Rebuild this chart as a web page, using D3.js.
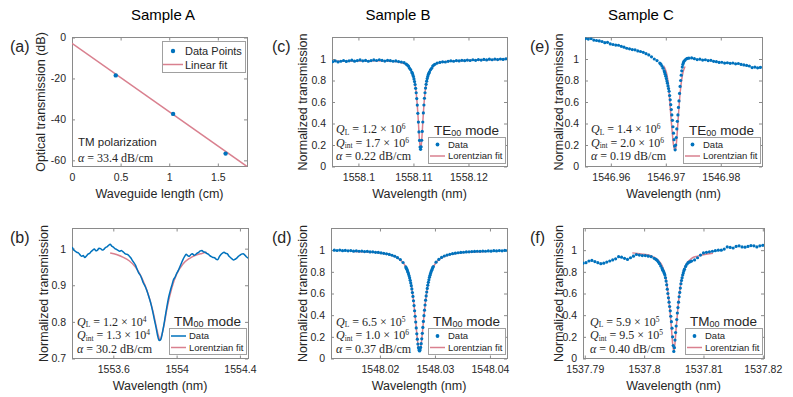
<!DOCTYPE html>
<meta charset="utf-8">
<style>
body { margin: 0; background: #fff; }
svg text { font-family: "Liberation Sans", Arial, sans-serif; fill: #262626; }
.tick text { font-size: 10.5px; fill: #262626; }
.tex { font-family: "Liberation Serif", "Times New Roman", serif; font-size: 12px; }
</style>
<svg width="793" height="397"></svg>
<script src="https://cdn.jsdelivr.net/npm/d3@7"></script>
<script>

// ---------- data ----------
// (a) cut-back loss
var aLen = [0.45, 1.04, 1.58];
var aTrans = [-18.5, -37.3, -56.7];
var aFitLen = [0, 1.8];
var aFitTrans = [-2.9, -63.0];

// (b) TM00, sample A (wavelength in nm)
var bWl = [1553.34,1553.35,1553.36,1553.37,1553.38,1553.39,1553.40,1553.41,1553.42,1553.43,1553.44,1553.45,1553.46,1553.47,1553.48,1553.49,1553.50,1553.51,1553.52,1553.53,1553.54,1553.55,1553.56,1553.57,1553.58,1553.59,1553.60,1553.61,1553.62,1553.63,1553.64,1553.65,1553.66,1553.67,1553.68,1553.69,1553.70,1553.71,1553.72,1553.73,1553.74,1553.75,1553.76,1553.77,1553.78,1553.79,1553.80,1553.81,1553.82,1553.83,1553.84,1553.85,1553.86,1553.87,1553.88,1553.89,1553.90,1553.91,1553.92,1553.93,1553.94,1553.95,1553.96,1553.97,1553.98,1553.99,1554.00,1554.01,1554.02,1554.03,1554.04,1554.05,1554.06,1554.07,1554.08,1554.09,1554.10,1554.11,1554.12,1554.13,1554.14,1554.15,1554.16,1554.17,1554.18,1554.19,1554.20,1554.21,1554.22,1554.23,1554.24,1554.25,1554.26,1554.27,1554.28,1554.29,1554.30,1554.31,1554.32,1554.33,1554.34,1554.35,1554.36,1554.37,1554.38,1554.39,1554.40,1554.41,1554.42,1554.43,1554.44,1554.45,1554.46];
var bT = [1.004,0.996,0.993,0.99,0.988,0.983,0.979,0.981,0.976,0.98,0.985,0.987,0.992,0.996,0.999,0.994,0.996,1.001,1.0,0.996,0.998,1.003,1.005,1.009,1.012,1.007,1.004,1.0,0.998,0.995,0.993,0.995,0.992,0.988,0.985,0.984,0.98,0.975,0.968,0.962,0.955,0.944,0.934,0.928,0.918,0.906,0.898,0.888,0.875,0.861,0.845,0.826,0.805,0.785,0.762,0.749,0.752,0.77,0.793,0.82,0.845,0.868,0.885,0.9,0.915,0.922,0.932,0.94,0.95,0.96,0.97,0.978,0.985,0.981,0.979,0.984,0.986,0.982,0.984,0.988,0.99,0.994,0.995,0.991,0.99,0.987,0.985,0.981,0.978,0.976,0.975,0.971,0.97,0.978,0.984,0.988,0.99,0.987,0.986,0.98,0.976,0.972,0.969,0.971,0.974,0.979,0.982,0.985,0.986,0.983,0.978,0.975,0.973];
var bFitWl = [1553.58,1553.62,1553.66,1553.70,1553.74,1553.78,1553.82,1553.85,1553.87,1553.885,1553.895,1553.905,1553.92,1553.94,1553.97,1554.00,1554.04,1554.08,1554.12,1554.16,1554.19];
var bFitT = [0.988,0.984,0.977,0.967,0.95,0.92,0.876,0.83,0.79,0.762,0.75,0.762,0.79,0.838,0.893,0.93,0.958,0.973,0.982,0.987,0.99];

// (c) TE00, sample B: offsets in pm from the dip
var cCenter = 1558.1113;
var cOff = [-16,-15.5,-15,-14.5,-14,-13.5,-13,-12.5,-12,-11.5,-11,-10.5,-10,-9.5,-9,-8.5,-8,-7.5,-7,-6.5,-6,-5.5,-5,-4.5,-4,-3.5,-3,
  -2.6,-2.4,-2.2,-2,-1.8,-1.6,-1.5,-1.4,-1.3,-1.2,-1.1,-1,-0.9,-0.8,-0.7,-0.6,-0.5,-0.4,-0.3,-0.2,-0.1,0,
  0.1,0.2,0.3,0.4,0.5,0.6,0.7,0.8,0.9,1,1.1,1.2,1.3,1.4,1.5,1.6,1.8,2,2.2,2.4,2.6,
  3,3.5,4,4.5,5,5.5,6,6.5,7,7.5,8,8.5,9,9.5,10,10.5,11,11.5,12,12.5,13,13.5,14,14.5,15,15.5];
var cT = [0.975,0.982,0.973,0.979,0.986,0.977,0.983,0.989,0.98,0.985,0.991,0.983,0.987,0.979,0.985,0.991,0.986,0.993,0.987,0.981,0.988,0.984,0.979,0.982,0.976,0.972,0.966,
  0.952,0.944,0.933,0.913,0.9,0.878,0.868,0.851,0.837,0.815,0.79,0.763,0.727,0.686,0.632,0.571,0.495,0.413,0.322,0.243,0.181,0.16,
  0.183,0.244,0.326,0.414,0.498,0.572,0.635,0.686,0.73,0.764,0.794,0.818,0.838,0.855,0.868,0.88,0.899,0.913,0.934,0.944,0.951,
  0.962,0.968,0.974,0.972,0.978,0.983,0.979,0.985,0.982,0.988,0.984,0.99,0.986,0.993,0.988,0.995,0.99,0.996,0.991,0.998,0.993,0.999,0.995,1.0,0.996,1.002];
var cFitOff = [-16,-12,-8,-5,-3.5,-2.5,-2,-1.6,-1.3,-1,-0.8,-0.6,-0.4,-0.2,0,0.2,0.4,0.6,0.8,1,1.3,1.6,2,2.5,3.5,5,8,12,15.7];
var cFitT = [0.978,0.981,0.984,0.979,0.965,0.945,0.912,0.879,0.836,0.763,0.685,0.57,0.412,0.242,0.16,0.242,0.412,0.57,0.685,0.763,0.836,0.879,0.912,0.945,0.968,0.978,0.985,0.992,0.998];

// (d) TM00, sample B
var dCenter = 1548.0272;
var dOff = [-15.5,-15,-14.5,-14,-13.5,-13,-12.5,-12,-11.5,-11,-10.5,-10,-9.5,-9,-8.5,-8,-7.5,-7,-6.5,-6,-5.5,-5,-4.5,-4,-3.5,-3,
  -2.5,-2.4,-2.3,-2.2,-2.1,-2,-1.9,-1.8,-1.7,-1.6,-1.5,-1.4,-1.3,-1.2,-1.1,-1,-0.9,-0.8,-0.7,-0.6,-0.5,-0.4,-0.3,-0.2,-0.1,0,
  0.1,0.2,0.3,0.4,0.5,0.6,0.7,0.8,0.9,1,1.1,1.2,1.3,1.4,1.5,1.6,1.7,1.8,1.9,2,2.1,2.2,2.3,2.4,2.5,
  3,3.5,4,4.5,5,5.5,6,6.5,7,7.5,8,8.5,9,9.5,10,10.5,11,11.5,12,12.5,13,13.5,14,14.5,15,15.5,16];
var dT = [1.0,0.997,1.001,0.995,0.998,0.994,0.996,0.991,0.994,0.99,0.992,0.987,0.989,0.984,0.985,0.98,0.979,0.975,0.971,0.966,0.961,0.953,0.944,0.931,0.913,0.886,
  0.845,0.834,0.823,0.81,0.796,0.78,0.763,0.744,0.722,0.698,0.672,0.642,0.609,0.573,0.533,0.489,0.441,0.39,0.337,0.282,0.228,0.178,0.134,0.10,0.078,0.07,
  0.079,0.102,0.137,0.182,0.232,0.287,0.342,0.395,0.446,0.494,0.538,0.578,0.614,0.647,0.677,0.703,0.727,0.749,0.768,0.785,0.8,0.814,0.827,0.838,0.849,
  0.889,0.915,0.933,0.946,0.955,0.962,0.968,0.972,0.976,0.979,0.981,0.984,0.985,0.987,0.988,0.99,0.989,0.992,0.99,0.993,0.991,0.995,0.993,0.996,0.994,0.998,0.996];
var dFitOff = [-12,-9,-7,-5,-4,-3,-2.5,-2,-1.6,-1.3,-1,-0.8,-0.6,-0.4,-0.2,0,0.2,0.4,0.6,0.8,1,1.3,1.6,2,2.5,3,4,5,7,9,12];
var dFitT = [0.987,0.981,0.973,0.952,0.93,0.885,0.845,0.78,0.698,0.609,0.489,0.39,0.282,0.178,0.1,0.07,0.1,0.178,0.282,0.39,0.489,0.609,0.698,0.78,0.845,0.885,0.93,0.952,0.973,0.981,0.987];

// (e) TE00, sample C
var eCenter = 1546.9717;
var eOff = [-16.8,-16.3,-15.8,-15.3,-14.8,-14.3,-13.8,-13.3,-12.8,-12.3,-11.8,-11.3,-10.8,-10.3,-9.8,-9.3,-8.8,-8.3,-7.8,-7.3,-6.8,-6.3,-5.8,-5.3,-4.8,-4.3,-3.8,-3.3,
  -2.8,-2.6,-2.4,-2.2,-2,-1.9,-1.8,-1.7,-1.6,-1.5,-1.4,-1.3,-1.2,-1.1,-1,-0.9,-0.8,-0.7,-0.6,-0.5,-0.4,-0.3,-0.2,-0.1,0,
  0.1,0.2,0.3,0.4,0.5,0.6,0.7,0.8,0.9,1,1.1,1.2,1.3,1.4,1.5,1.6,1.8,2,2.2,
  2.5,3,3.5,4,4.5,5,5.5,6,6.5,7,7.5,8,8.5,9,9.5,10,10.5,11,11.5,12,12.5,13,13.5,14,14.5,15,15.5,16];
var eT = [1.195,1.19,1.185,1.19,1.176,1.172,1.168,1.163,1.152,1.155,1.14,1.135,1.13,1.128,1.118,1.11,1.1,1.095,1.088,1.085,1.075,1.07,1.062,1.05,1.038,1.02,1.0,0.985,
  0.962,0.952,0.935,0.915,0.89,0.875,0.858,0.84,0.818,0.795,0.775,0.75,0.725,0.7,0.66,0.62,0.575,0.53,0.48,0.43,0.37,0.31,0.25,0.19,0.155,
  0.2,0.27,0.35,0.42,0.48,0.55,0.61,0.68,0.745,0.8,0.85,0.89,0.925,0.95,0.965,0.978,0.99,1.0,1.005,
  1.008,1.01,1.003,0.995,0.998,0.99,0.993,0.985,0.988,0.978,0.975,0.968,0.97,0.962,0.965,0.96,0.963,0.955,0.958,0.95,0.945,0.94,0.935,0.92,0.925,0.918,0.922,0.925];
var eFitOff = [-2.1,-1.8,-1.5,-1.3,-1.1,-0.9,-0.7,-0.5,-0.3,-0.1,0.05,0.2,0.4,0.6,0.8,1,1.2,1.4,1.6,1.8];
var eFitT = [0.935,0.905,0.855,0.79,0.69,0.55,0.42,0.3,0.2,0.155,0.15,0.2,0.33,0.48,0.62,0.73,0.81,0.87,0.905,0.93];

// (f) TM00, sample C
var fCenter = 1537.805;
var fOff = [-15.3,-14.8,-14.3,-13.8,-13.3,-12.8,-12.3,-11.8,-11.3,-10.8,-10.3,-9.8,-9.3,-8.8,-8.3,-7.8,-7.3,-6.8,-6.3,-5.8,-5.3,-4.8,-4.3,-3.8,-3.3,
  -3,-2.8,-2.6,-2.4,-2.2,-2,-1.9,-1.8,-1.7,-1.6,-1.5,-1.4,-1.3,-1.2,-1.1,-1,-0.9,-0.8,-0.7,-0.6,-0.5,-0.4,-0.3,-0.2,-0.1,0,
  0.1,0.2,0.3,0.4,0.5,0.6,0.7,0.8,0.9,1,1.1,1.2,1.3,1.4,1.5,1.6,1.7,1.8,2,2.2,2.4,2.6,2.8,
  3,3.5,4,4.5,5,5.5,6,6.5,7,7.5,8,8.5,9,9.5,10,10.5,11,11.5,12,12.5,13,13.5,14,14.5,15];
var fT = [0.88,0.885,0.9,0.905,0.895,0.885,0.875,0.88,0.89,0.9,0.91,0.92,0.94,0.935,0.925,0.915,0.93,0.945,0.96,0.955,0.95,0.95,0.945,0.94,0.925,
  0.915,0.905,0.89,0.875,0.855,0.835,0.82,0.81,0.8,0.785,0.77,0.745,0.715,0.68,0.64,0.6,0.56,0.52,0.48,0.44,0.39,0.34,0.28,0.2,0.12,0.065,
  0.1,0.17,0.24,0.3,0.36,0.42,0.47,0.52,0.57,0.61,0.65,0.69,0.72,0.745,0.77,0.79,0.81,0.825,0.85,0.87,0.885,0.89,0.895,
  0.9,0.91,0.93,0.955,0.975,0.98,0.985,0.99,0.995,1.0,1.0,1.01,1.03,1.025,1.02,1.035,1.04,1.03,1.028,1.035,1.042,1.04,1.03,1.04,1.045];
var fFitOff = [-7,-5.5,-4,-3,-2.5,-2,-1.6,-1.3,-1,-0.7,-0.4,-0.2,0,0.2,0.4,0.7,1,1.3,1.6,2,2.5,3,4,5,6.6];
var fFitT = [0.975,0.965,0.95,0.925,0.9,0.86,0.8,0.73,0.62,0.47,0.28,0.14,0.065,0.14,0.28,0.47,0.62,0.73,0.8,0.86,0.9,0.925,0.945,0.958,0.972];

// tick values
var normTicks = [0, 0.2, 0.4, 0.6, 0.8, 1];
var aXTicks = [0, 0.5, 1, 1.5], aYTicks = [-60, -40, -20, 0];
var bXTicks = [1553.6, 1554, 1554.4], bYTicks = [0.7, 0.8, 0.9, 1];
var cXTicks = [1558.1, 1558.11, 1558.12];
var dXTicks = [1548.02, 1548.03, 1548.04];
var eXTicks = [1546.96, 1546.97, 1546.98];
var fXTicks = [1537.79, 1537.8, 1537.81, 1537.82];

// ---------- drawing ----------
var svg = d3.select("svg");
var blue = "#0072bd", pink = "#d9808f", boxGray = "#8a8a8a";

svg.append("rect").attr("width", 793).attr("height", 397).attr("fill", "#fff");

function panel(p) {
  var x = d3.scaleLinear().domain(p.xDom).range([p.x0, p.x1]);
  var y = d3.scaleLinear().domain(p.yDom).range([p.y1, p.y0]);
  var g = svg.append("g");
  var noLabel = function() { return ""; };

  g.append("clipPath").attr("id", "clip" + p.name)
    .append("rect").attr("x", p.x0).attr("y", p.y0)
    .attr("width", p.x1 - p.x0).attr("height", p.y1 - p.y0);

  g.append("g").attr("class", "ax").attr("transform", "translate(0," + p.y1 + ")")
    .call(d3.axisBottom(x).tickValues(p.xTicks).tickFormat(String).tickSizeInner(-3).tickSizeOuter(0).tickPadding(7.5));
  g.append("g").attr("class", "ax").attr("transform", "translate(0," + p.y0 + ")")
    .call(d3.axisTop(x).tickValues(p.xTicks).tickFormat(noLabel).tickSizeInner(-3).tickSizeOuter(0));
  g.append("g").attr("class", "ax").attr("transform", "translate(" + p.x0 + ",0)")
    .call(d3.axisLeft(y).tickValues(p.yTicks).tickFormat(String).tickSizeInner(-3).tickSizeOuter(0).tickPadding(6));
  g.append("g").attr("class", "ax").attr("transform", "translate(" + p.x1 + ",0)")
    .call(d3.axisRight(y).tickValues(p.yTicks).tickFormat(noLabel).tickSizeInner(-3).tickSizeOuter(0));
  g.selectAll(".ax .domain").remove();
  g.selectAll(".ax line").attr("stroke", boxGray);

  g.append("rect").attr("x", p.x0).attr("y", p.y0)
    .attr("width", p.x1 - p.x0).attr("height", p.y1 - p.y0)
    .attr("fill", "none").attr("stroke", boxGray).attr("stroke-width", 1)
    .attr("shape-rendering", "crispEdges");

  // axis labels
  g.append("text").attr("x", (p.x0 + p.x1) / 2).attr("y", p.y1 + 31.5)
    .attr("text-anchor", "middle").style("font-size", "12.5px").text(p.xLabel);
  g.append("text")
    .attr("transform", "translate(" + (p.x0 - p.yLabelGap) + "," + (p.y0 + p.y1) / 2 + ") rotate(-90)")
    .attr("text-anchor", "middle").attr("dy", "0.35em").style("font-size", "12.5px").text(p.yLabel);
  // panel letter
  g.append("text").attr("x", p.letterX).attr("y", p.y0 + 14)
    .style("font-size", "16px").text(p.letter);

  var plot = g.append("g").attr("clip-path", "url(#clip" + p.name + ")");
  return { x: x, y: y, g: g, plot: plot };
}

function drawLine(P, xs, ys, color, width) {
  var pts = xs.map(function(v, i) { return [v, ys[i]]; });
  P.plot.append("path")
    .attr("d", d3.line().x(function(d) { return P.x(d[0]); }).y(function(d) { return P.y(d[1]); })
      .curve(d3.curveMonotoneX)(pts))
    .attr("fill", "none").attr("stroke", color).attr("stroke-width", width)
    .attr("stroke-linejoin", "round");
}

function drawDots(P, xs, ys, r) {
  P.plot.selectAll(null).data(xs).enter().append("circle")
    .attr("cx", function(d) { return P.x(d); })
    .attr("cy", function(d, i) { return P.y(ys[i]); })
    .attr("r", r).attr("fill", blue);
}

function toWl(center, offs) {
  return offs.map(function(o) { return center + o / 1000; });
}

// legend in the lower-right corner with a mode title above it
function modeLegend(P, right, bottom, mode, dataIsLine) {
  var w = 77, h = 26, x0 = right - w, y0 = bottom - h;
  var g = P.g.append("g");
  g.append("rect").attr("x", x0).attr("y", y0).attr("width", w).attr("height", h)
    .attr("fill", "#fff").attr("stroke", "#a0a0a0").attr("shape-rendering", "crispEdges");
  var t = g.append("text").attr("x", x0 + w / 2).attr("y", y0 - 2.5)
    .attr("text-anchor", "middle").style("font-size", "13.5px");
  t.append("tspan").text(mode);
  t.append("tspan").style("font-size", "9px").attr("dy", 1).text("00");
  t.append("tspan").attr("dy", -1).text(" mode");

  var r1 = y0 + 7.5, r2 = y0 + 19;
  if (dataIsLine) {
    g.append("line").attr("x1", x0 + 2).attr("x2", x0 + 17).attr("y1", r1).attr("y2", r1)
      .attr("stroke", blue).attr("stroke-width", 1.5);
  } else {
    g.append("circle").attr("cx", x0 + 9.5).attr("cy", r1).attr("r", 1.9).attr("fill", blue);
  }
  g.append("line").attr("x1", x0 + 2).attr("x2", x0 + 17).attr("y1", r2).attr("y2", r2)
    .attr("stroke", pink).attr("stroke-width", 1.5);
  g.append("text").attr("x", x0 + 20).attr("y", r1 + 3.3).style("font-size", "9.5px").text("Data");
  g.append("text").attr("x", x0 + 20).attr("y", r2 + 3.3).style("font-size", "9.5px").text("Lorentzian fit");
}

// Q_L, Q_int and alpha lines, written like the LaTeX labels of the figure
function qBlock(P, x, yTop, ql, qlExp, qi, qiExp, alpha) {
  var rows = [["L", ql, qlExp], ["int", qi, qiExp]];
  rows.forEach(function(r, i) {
    var t = P.g.append("text").attr("class", "tex").attr("x", x).attr("y", yTop + i * 13.6);
    t.append("tspan").style("font-style", "italic").text("Q");
    t.append("tspan").style("font-size", "7.5px").attr("dy", 1.8).text(r[0]);
    t.append("tspan").attr("dy", -1.8).text(" = " + r[1] + " × 10");
    t.append("tspan").style("font-size", "7.5px").attr("dy", -4).text(r[2]);
  });
  var a = P.g.append("text").attr("class", "tex").attr("x", x).attr("y", yTop + 27.2);
  a.append("tspan").style("font-style", "italic").text("α");
  a.append("tspan").text(" = " + alpha + " dB/cm");
}

var top0 = 37.5, top1 = 166.5, bot0 = 228.5, bot1 = 358.5;
var wlLabel = "Wavelength (nm)", ntLabel = "Normalized transmission";

// column titles
[["Sample A", 163], ["Sample B", 398], ["Sample C", 641]].forEach(function(s) {
  svg.append("text").attr("x", s[1]).attr("y", 20).attr("text-anchor", "middle")
    .style("font-size", "15px").style("fill", "#000").text(s[0]);
});

// (a)
var A = panel({ name: "a", x0: 72, x1: 247, y0: top0, y1: top1, xDom: [0, 1.8], yDom: [-63, 0],
  xTicks: aXTicks, yTicks: aYTicks, xLabel: "Waveguide length (cm)", yLabel: "Optical transmission (dB)",
  yLabelGap: 31, letter: "(a)", letterX: 10 });
drawLine(A, aFitLen, aFitTrans, pink, 1.5);
drawDots(A, aLen, aTrans, 2.2);
(function() {
  var g = A.g.append("g");
  g.append("rect").attr("x", 162).attr("y", 41.5).attr("width", 83).attr("height", 30.5)
    .attr("fill", "#fff").attr("stroke", "#a0a0a0").attr("shape-rendering", "crispEdges");
  g.append("circle").attr("cx", 173).attr("cy", 51).attr("r", 2.2).attr("fill", blue);
  g.append("line").attr("x1", 163).attr("x2", 183).attr("y1", 64.5).attr("y2", 64.5)
    .attr("stroke", pink).attr("stroke-width", 1.5);
  g.append("text").attr("x", 185).attr("y", 55).style("font-size", "11px").text("Data Points");
  g.append("text").attr("x", 185).attr("y", 68.5).style("font-size", "11px").text("Linear fit");
  A.g.append("text").attr("x", 78).attr("y", 146).style("font-size", "11.5px").text("TM polarization");
  var t = A.g.append("text").attr("class", "tex").attr("x", 78).attr("y", 161.5);
  t.append("tspan").style("font-style", "italic").text("α");
  t.append("tspan").text(" = 33.4 dB/cm");
})();

// (b)
var B = panel({ name: "b", x0: 72, x1: 248, y0: bot0, y1: bot1, xDom: [1553.339, 1554.451], yDom: [0.7, 1.055],
  xTicks: bXTicks, yTicks: bYTicks, xLabel: wlLabel, yLabel: ntLabel, yLabelGap: 28, letter: "(b)", letterX: 10 });
drawLine(B, bFitWl, bFitT, pink, 1.5);
drawLine(B, bWl, bT, blue, 1.5);
modeLegend(B, 246, 354.5, "TM", true);
qBlock(B, 77, 325.5, "1.2", "4", "1.3", "4", "30.2");

// (c)
var C = panel({ name: "c", x0: 332, x1: 507, y0: top0, y1: top1, xDom: [1558.0952, 1558.1270], yDom: [0, 1.2],
  xTicks: cXTicks, yTicks: normTicks, xLabel: wlLabel, yLabel: ntLabel, yLabelGap: 29, letter: "(c)", letterX: 272 });
drawLine(C, toWl(cCenter, cFitOff), cFitT, pink, 1.5);
drawDots(C, toWl(cCenter, cOff), cT, 1.6);
modeLegend(C, 505, 163, "TE", false);
qBlock(C, 336, 133, "1.2", "6", "1.7", "6", "0.22");

// (d)
var D = panel({ name: "d", x0: 331, x1: 507, y0: bot0, y1: bot1, xDom: [1548.0111, 1548.0431], yDom: [0, 1.2],
  xTicks: dXTicks, yTicks: normTicks, xLabel: wlLabel, yLabel: ntLabel, yLabelGap: 28, letter: "(d)", letterX: 272 });
drawLine(D, toWl(dCenter, dFitOff), dFitT, pink, 1.5);
drawDots(D, toWl(dCenter, dOff), dT, 1.6);
modeLegend(D, 505, 354.5, "TM", false);
qBlock(D, 336, 325.5, "6.5", "5", "1.0", "6", "0.37");

// (e)
var E = panel({ name: "e", x0: 585, x1: 762, y0: top0, y1: top1, xDom: [1546.9553, 1546.9875], yDom: [0, 1.2],
  xTicks: eXTicks, yTicks: normTicks, xLabel: wlLabel, yLabel: ntLabel, yLabelGap: 26, letter: "(e)", letterX: 530 });
drawLine(E, toWl(eCenter, eFitOff), eFitT, pink, 1.5);
drawDots(E, toWl(eCenter, eOff), eT, 1.6);
modeLegend(E, 760, 163, "TE", false);
qBlock(E, 591, 133, "1.4", "6", "2.0", "6", "0.19");

// (f)
var F = panel({ name: "f", x0: 583, x1: 764, y0: bot0, y1: bot1, xDom: [1537.7897, 1537.8202], yDom: [0, 1.2],
  xTicks: fXTicks, yTicks: normTicks, xLabel: wlLabel, yLabel: ntLabel, yLabelGap: 24, letter: "(f)", letterX: 530 });
drawLine(F, toWl(fCenter, fFitOff), fFitT, pink, 1.5);
drawDots(F, toWl(fCenter, fOff), fT, 1.6);
modeLegend(F, 762, 354.5, "TM", false);
qBlock(F, 590, 325.5, "5.9", "5", "9.5", "5", "0.40");

</script>
